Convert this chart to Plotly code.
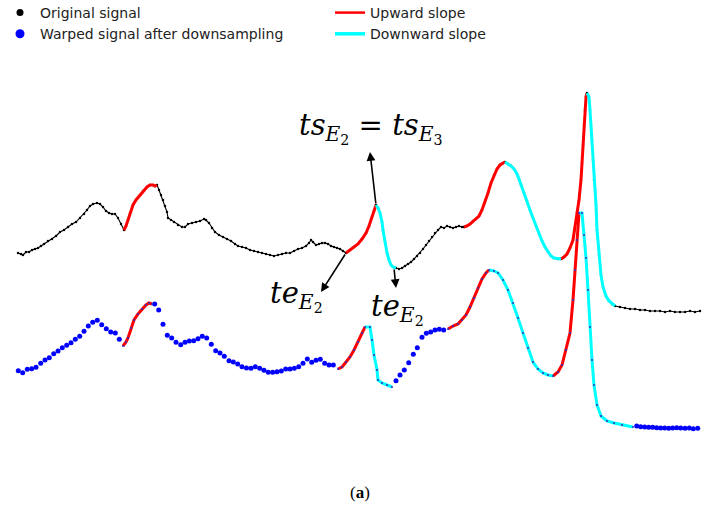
import plotly.graph_objects as go

# ---------------- data (time index, amplitude; y axis is reversed) -------------
orig_t = [18, 21, 23, 26, 29, 32, 35, 38, 41, 44, 48, 52, 56, 60, 64, 68, 72, 76, 80, 84, 87, 90, 93, 97,
          100, 103, 106, 109, 112, 115, 118, 121, 124,
          126, 128, 130, 133, 136, 140, 143, 147, 150, 153, 155, 157,
          159, 161, 163, 165, 167, 168, 171, 174, 178, 182, 185, 188, 192, 196, 200, 204, 206, 209, 212,
          215, 219, 223, 227, 231, 235, 238, 242, 246, 250, 254, 258, 262, 266, 270, 274, 278, 282, 286,
          290, 294, 298, 302, 306, 309, 311, 313, 316, 319, 322, 325, 328, 331, 334, 337, 340, 343, 346,
          350, 354, 358, 362, 366, 369, 372, 374, 376,
          378, 380, 382, 383, 385, 387, 389, 391, 393, 396,
          399, 402, 405, 408, 411, 414, 417, 420, 423, 426, 429, 432, 435, 438, 441, 444, 447, 450, 453,
          456, 459, 462, 464,
          467, 470, 473, 476, 479, 482, 485, 488, 491, 494, 497, 500, 503, 505,
          508, 511, 514, 517, 519, 521, 524, 527, 530, 533, 536, 539, 542, 545, 548, 551, 554, 558, 561,
          564, 567, 570, 573, 575, 577, 579, 581, 582, 583, 584, 585, 586, 587,
          589, 590, 591, 592, 593, 594, 596, 597, 599, 601, 603, 606, 609, 612, 615,
          620, 625, 630, 635, 640, 645, 650, 655, 660, 665, 670, 675, 680, 685, 690, 695, 700]
orig_v = [253, 254, 255, 252, 252, 250, 249, 248, 246, 244, 241, 239, 236, 232, 230, 227, 224, 222, 218, 214,
          210, 206, 204, 203, 204, 207, 211, 213, 214, 214, 218, 224, 230,
          226, 220, 213, 205, 200, 195, 191, 187, 185, 185, 186, 185,
          190, 195, 200, 206, 212, 218, 220, 222, 225, 227, 227, 224, 223, 222, 221, 219, 220, 223, 228,
          232, 235, 237, 239, 241, 244, 246, 247, 248, 250, 251, 252, 253, 254, 255, 256, 255, 254, 253,
          253, 251, 249, 248, 246, 243, 240, 242, 245, 244, 243, 243, 244, 246, 247, 248, 249, 251, 253,
          250, 247, 244, 239, 233, 226, 217, 211, 205,
          208, 213, 222, 230, 242, 253, 260, 265, 267, 268,
          269, 268, 266, 264, 262, 259, 256, 253, 249, 245, 241, 237, 233, 230, 227, 228, 226, 227, 228,
          227, 226, 227, 227,
          226, 224, 221, 219, 216, 210, 202, 193, 183, 175, 169, 165, 163, 162,
          164, 166, 169, 174, 179, 185, 193, 201, 210, 218, 226, 234, 241, 247, 252, 256, 258, 259, 259,
          257, 254, 248, 240, 228, 212, 200, 180, 163, 145, 125, 110, 97, 93,
          97, 110, 125, 140, 160, 180, 205, 230, 255, 275, 287, 296, 301, 304, 306,
          307, 308, 309, 309, 310, 310, 311, 311, 311, 312, 311, 312, 312, 312, 311, 312, 311]
orig_up_ranges = [(124, 157), (346, 376), (464, 505), (561, 587)]
orig_down_ranges = [(376, 396), (505, 561), (587, 615)]

warp_t = [18.3, 22.7, 27.3, 31.7, 36, 40.7, 45, 49.3, 53.7, 58, 62.3, 66.7, 71, 75.3, 79.7, 84, 88.3, 92.7,
          97.3, 101.7, 106.3, 110.7, 115.3, 119.3,
          123, 126, 128, 131, 134, 138, 142, 146, 149, 152,
          154.7, 158.7, 163, 167.3, 171.7, 176, 180.7, 185, 189.3, 193.7, 198, 202.3, 206.7, 211.3, 215.7,
          220, 224.3, 229, 233.3, 237.7, 242, 246.5, 251, 255.3, 259.7, 264, 268.3, 272.7, 277, 281.3,
          285.7, 290, 294.3, 298.7, 303, 307.3, 311.7, 316, 320.3, 324.7, 329, 333.3,
          338, 342, 346, 350, 354, 358, 362, 365,
          370, 372, 374, 377, 378, 382, 387, 392,
          396, 400, 404.3, 408.7, 413.3, 417.3, 422, 426.3, 430.7, 435, 439.3, 443.7,
          448, 453, 458, 462, 466, 470, 474, 478, 482, 486, 489,
          494, 498, 503, 508, 513, 518, 523, 528, 533, 538, 543, 548, 553,
          558, 562, 566, 570, 573, 575, 577, 579,
          582, 584, 586, 588, 590, 592, 594, 597, 601, 607, 614, 622, 633,
          636.7, 640.7, 644.7, 648.7, 652.7, 656.7, 660.7, 664.7, 668.7, 672.7, 676.7, 680.7, 685, 689.3,
          693.3, 697.7]
warp_v = [370.7, 372.7, 369.3, 368.7, 367.3, 363.3, 360, 357.7, 353.7, 351, 347.7, 345.3, 342.7, 339.3,
          336.3, 331.3, 326, 322.3, 320.3, 324.7, 328.7, 332, 333, 339.3,
          346, 342, 338, 328, 320, 314, 309, 305, 303, 304,
          304, 310, 324.3, 335.3, 338, 342.3, 344.7, 342.3, 341, 340.7, 338.7, 336.3, 338, 344.3, 350.7,
          353, 356.3, 360.7, 362, 364, 366.7, 368, 368.3, 366.7, 368.3, 370.3, 372.3, 372.3, 371.7, 371,
          369, 369, 368.3, 366.7, 363.3, 359, 362.3, 360.3, 359.3, 363.3, 365, 365,
          369, 367, 362, 357, 350, 342, 333, 327,
          327, 340, 355, 370, 380, 383, 385, 387,
          380.7, 375, 370, 362.7, 354.3, 347.7, 337.3, 333.3, 332, 330, 329.3, 330,
          329, 326, 324, 320, 315, 307, 298, 288, 279, 273, 270,
          271, 273, 280, 290, 303, 318, 333, 348, 362, 369, 373, 375, 376,
          372, 365, 350, 333, 300, 270, 240, 213,
          213, 235, 258, 290, 327, 360, 385, 405, 416, 421, 423, 425, 427,
          426, 426.7, 427, 427.3, 427.3, 427.7, 428, 428, 428.3, 428, 427.7, 428, 428.3, 428, 428.7, 428.3]
warp_up_ranges = [(123, 152), (338, 365), (448, 489), (553, 579)]
warp_down_ranges = [(365, 392), (489, 553), (579, 633)]

legend_labels = ["Original signal", "Warped signal after downsampling", "Upward slope", "Downward slope"]
caption = "(<b>a</b>)"

# ---------------- helpers ----------------
def segments(t, v, ranges):
    xs, ys = [], []
    for a, b in ranges:
        for ti, vi in zip(t, v):
            if a <= ti <= b:
                xs.append(ti)
                ys.append(vi)
        xs.append(None)
        ys.append(None)
    return xs, ys


BLACK, BLUE, RED, CYAN = "#000000", "#0000ff", "#ff0000", "#00ffff"
all_ranges = warp_up_ranges + warp_down_ranges


def on_slope(t):
    return any(a <= t <= b for a, b in all_ranges)


fig = go.Figure()

# original signal
fig.add_trace(go.Scatter(x=orig_t, y=orig_v, mode="lines+markers",
                         line=dict(color=BLACK, width=1.1), marker=dict(color=BLACK, size=2.5),
                         showlegend=False, hoverinfo="skip"))

# warped signal dots (outside slope segments)
wx = [t for t in warp_t if not on_slope(t)]
wy = [v for t, v in zip(warp_t, warp_v) if not on_slope(t)]
fig.add_trace(go.Scatter(x=wx, y=wy, mode="markers", marker=dict(color=BLUE, size=5),
                         showlegend=False, hoverinfo="skip"))

# slope segments
ux1, uy1 = segments(orig_t, orig_v, orig_up_ranges)
ux2, uy2 = segments(warp_t, warp_v, warp_up_ranges)
dx1, dy1 = segments(orig_t, orig_v, orig_down_ranges)
dx2, dy2 = segments(warp_t, warp_v, warp_down_ranges)
fig.add_trace(go.Scatter(x=ux1 + ux2, y=uy1 + uy2, mode="lines",
                         line=dict(color=RED, width=3), showlegend=False, hoverinfo="skip"))
fig.add_trace(go.Scatter(x=dx1 + dx2, y=dy1 + dy2, mode="lines",
                         line=dict(color=CYAN, width=3), showlegend=False, hoverinfo="skip"))

# small downsampled points on top of slope segments of warped signal
sx = [t for t in warp_t if on_slope(t)]
sy = [v for t, v in zip(warp_t, warp_v) if on_slope(t)]
fig.add_trace(go.Scatter(x=sx, y=sy, mode="markers", marker=dict(color="#3030c0", size=2),
                         showlegend=False, hoverinfo="skip"))

# legend entries
fig.add_trace(go.Scatter(x=[None], y=[None], mode="markers", name=legend_labels[0],
                         marker=dict(color=BLACK, size=7), legendrank=1))
fig.add_trace(go.Scatter(x=[None], y=[None], mode="lines", name=legend_labels[2],
                         line=dict(color=RED, width=2.5), legendrank=2))
fig.add_trace(go.Scatter(x=[None], y=[None], mode="markers", name=legend_labels[1],
                         marker=dict(color=BLUE, size=9), legendrank=3))
fig.add_trace(go.Scatter(x=[None], y=[None], mode="lines", name=legend_labels[3],
                         line=dict(color=CYAN, width=3.5), legendrank=4))

math_font = dict(family="DejaVu Serif", size=29, color="black")
arrow_common = dict(xref="x", yref="y", axref="x", ayref="y", text="", showarrow=True,
                    arrowhead=2, arrowsize=1.1, arrowwidth=1.6, arrowcolor="black")
fig.add_annotation(x=370, y=152, ax=376, ay=205, **arrow_common)
fig.add_annotation(x=321, y=292, ax=346, ay=253, **arrow_common)
fig.add_annotation(x=396, y=288, ax=394, ay=268, **arrow_common)

fig.add_annotation(x=371, y=128, xref="x", yref="y", showarrow=False, font=math_font,
                   text="<i>ts</i><sub><i>E</i><sub>2</sub></sub> = <i>ts</i><sub><i>E</i><sub>3</sub></sub>")
fig.add_annotation(x=296, y=296, xref="x", yref="y", showarrow=False, font=math_font,
                   text="<i>te</i><sub><i>E</i><sub>2</sub></sub>")
fig.add_annotation(x=397, y=309, xref="x", yref="y", showarrow=False, font=math_font,
                   text="<i>te</i><sub><i>E</i><sub>2</sub></sub>")
fig.add_annotation(x=360, y=492, xref="x", yref="y", showarrow=False,
                   font=dict(family="Liberation Serif", size=17, color="black"), text=caption)

W, H = 720, 517
fig.update_layout(
    width=W, height=H,
    margin=dict(l=0, r=0, t=0, b=0, autoexpand=False),
    paper_bgcolor="white", plot_bgcolor="white",
    xaxis=dict(range=[0, W], visible=False),
    yaxis=dict(range=[H, 0], visible=False),
    legend=dict(orientation="h", x=0, y=1 + 3 / H, xanchor="left", yanchor="top",
                entrywidth=285, entrywidthmode="pixels", traceorder="normal",
                font=dict(family="DejaVu Sans", size=14, color="#222222"),
                bgcolor="rgba(0,0,0,0)"),
)

# remove the default 8px page margin so the figure fills the window exactly
fig.write_html("out.html", config={"displayModeBar": False},
               post_script="document.body.style.margin='0';")
